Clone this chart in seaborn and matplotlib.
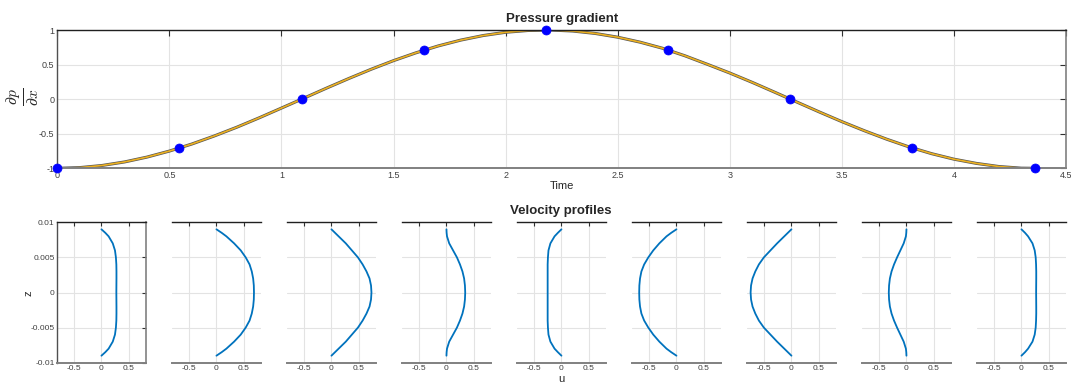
import numpy as np
import pandas as pd
import seaborn as sns
import matplotlib
matplotlib.use("Agg")
import matplotlib.pyplot as plt

# pressure gradient curve
time = [0, 0.1, 0.2, 0.3, 0.4, 0.5, 0.6, 0.7, 0.8, 0.9, 1.0, 1.1, 1.2, 1.3, 1.4,
        1.5, 1.6, 1.7, 1.8, 1.9, 2.0, 2.1, 2.2, 2.3, 2.4, 2.5, 2.6, 2.7, 2.8, 2.9,
        3.0, 3.1, 3.2, 3.3, 3.4, 3.5, 3.6, 3.7, 3.8, 3.9, 4.0, 4.1, 4.2, 4.3, 4.36]
dpdx = [-1.0, -0.990, -0.959, -0.908, -0.838, -0.751, -0.649, -0.533, -0.407,
        -0.271, -0.129, 0.014, 0.158, 0.298, 0.432, 0.557, 0.670, 0.770, 0.854,
        0.920, 0.967, 0.993, 1.0, 0.985, 0.950, 0.896, 0.824, 0.736, 0.627,
        0.504, 0.378, 0.243, 0.101, -0.043, -0.186, -0.325, -0.456, -0.579,
        -0.691, -0.788, -0.868, -0.929, -0.974, -0.998, -1.0]

# sample instants (blue dots)
t_samples = [0, 0.545, 1.09, 1.635, 2.18, 2.725, 3.27, 3.815, 4.36]
p_samples = [-1.0, -0.707, 0.0, 0.707, 1.0, 0.707, 0.0, -0.707, -1.0]

# velocity profiles u(z) at those instants
z = [-0.009, -0.0085, -0.008, -0.007, -0.006, -0.005, -0.004, -0.003, -0.002, -0.001,
     0.0, 0.001, 0.002, 0.003, 0.004, 0.005, 0.006, 0.007, 0.008, 0.0085, 0.009]
u1 = [0, 0.07, 0.13, 0.205, 0.245, 0.262, 0.27, 0.272, 0.272, 0.271, 0.27,
      0.271, 0.272, 0.272, 0.27, 0.262, 0.245, 0.205, 0.13, 0.07, 0]
u2 = [0, 0.095, 0.18, 0.32, 0.44, 0.53, 0.60, 0.64, 0.665, 0.677, 0.68,
      0.677, 0.665, 0.64, 0.60, 0.53, 0.44, 0.32, 0.18, 0.095, 0]
u3 = [0, 0.065, 0.13, 0.26, 0.37, 0.48, 0.565, 0.635, 0.69, 0.717, 0.725,
      0.717, 0.69, 0.635, 0.565, 0.48, 0.37, 0.26, 0.13, 0.065, 0]
u4 = [0, 0.003, 0.01, 0.05, 0.12, 0.19, 0.245, 0.29, 0.32, 0.335, 0.34,
      0.335, 0.32, 0.29, 0.245, 0.19, 0.12, 0.05, 0.01, 0.003, 0]
u5 = [0, -0.065, -0.125, -0.2, -0.235, -0.245, -0.25, -0.25, -0.25, -0.25, -0.25,
      -0.25, -0.25, -0.25, -0.25, -0.245, -0.235, -0.2, -0.125, -0.065, 0]
u6 = [0, -0.095, -0.18, -0.31, -0.42, -0.51, -0.585, -0.635, -0.66, -0.672, -0.675,
      -0.672, -0.66, -0.635, -0.585, -0.51, -0.42, -0.31, -0.18, -0.095, 0]
u7 = [0, -0.065, -0.13, -0.26, -0.38, -0.50, -0.59, -0.655, -0.705, -0.732, -0.74,
      -0.732, -0.705, -0.655, -0.59, -0.50, -0.38, -0.26, -0.13, -0.065, 0]
u8 = [0, -0.003, -0.01, -0.05, -0.11, -0.17, -0.225, -0.27, -0.30, -0.315, -0.32,
      -0.315, -0.30, -0.27, -0.225, -0.17, -0.11, -0.05, -0.01, -0.003, 0]
u9 = [0, 0.065, 0.12, 0.20, 0.24, 0.258, 0.265, 0.268, 0.268, 0.267, 0.266,
      0.267, 0.268, 0.268, 0.265, 0.258, 0.24, 0.20, 0.12, 0.065, 0]
profiles = [u1, u2, u3, u4, u5, u6, u7, u8, u9]

sns.set_style("white")
plt.rcParams['font.family'] = ['Liberation Sans', 'DejaVu Sans']
plt.rcParams['mathtext.fontset'] = 'cm'

W, H = 1071, 385
fig = plt.figure(figsize=(W / 100, H / 100), dpi=100)

tick_col = '#404040'
grid_col = '#e3e3e3'


def style_spines(ax, sides=True):
    ax.spines['top'].set_color('#202020')
    ax.spines['top'].set_linewidth(1.0)
    ax.spines['bottom'].set_color('#808080')
    ax.spines['bottom'].set_linewidth(1.4)
    for s in ['left', 'right']:
        ax.spines[s].set_visible(sides)
    ax.spines['left'].set_color('#505050')
    ax.spines['right'].set_color('#808080')
    ax.spines['left'].set_linewidth(1.0)
    ax.spines['right'].set_linewidth(1.2)


# top panel
ax = fig.add_axes([57.3 / W, 1 - 168.3 / H, (1066 - 57.3) / W, (168.3 - 30) / H])
sns.lineplot(x=time, y=dpdx, ax=ax, color='#555555', lw=2.2, estimator=None, sort=False)
sns.lineplot(x=time, y=dpdx, ax=ax, color='#EDB120', lw=1.2, estimator=None, sort=False)
sns.scatterplot(x=t_samples, y=p_samples, ax=ax, color='#0000ff', s=42,
                edgecolor='#0000ff', zorder=5, clip_on=False)
ax.set_xlim(0, 4.5)
ax.set_ylim(-1, 1)
ax.set_xticks(np.arange(0, 4.51, 0.5))
ax.set_xticklabels(['0', '0.5', '1', '1.5', '2', '2.5', '3', '3.5', '4', '4.5'])
ax.set_yticks([-1, -0.5, 0, 0.5, 1])
ax.set_yticklabels(['-1', '-0.5', '0', '0.5', '1'])
ax.grid(True, color=grid_col, lw=0.8)
ax.tick_params(direction='in', top=True, right=True, length=4, width=0.8,
               labelsize=6.5, labelcolor=tick_col, color='#303030', pad=2)
style_spines(ax, True)
ax.set_title('Pressure gradient', fontsize=9.5, fontweight='bold', pad=6)
ax.set_xlabel('Time', fontsize=8, color='#262626', labelpad=1)
ax.set_ylabel('')
fig.text(23 / W, 1 - 97 / H, r'$\frac{\partial p}{\partial x}$', rotation=90,
         ha='center', va='center', fontsize=16)

# velocity profiles
for i, u in enumerate(profiles):
    left = (57.3 + 115 * i) / W
    a = fig.add_axes([left, 1 - 362.7 / H, 88.3 / W, (362.7 - 222.3) / H])
    df = pd.DataFrame({'u': u, 'z': z})
    sns.lineplot(data=df, x='u', y='z', ax=a, color='#0072BD', lw=1.3,
                 estimator=None, sort=False)
    a.set_xlim(-0.8, 0.8)
    a.set_ylim(-0.01, 0.01)
    a.set_xticks([-0.5, 0, 0.5])
    a.set_xticklabels(['-0.5', '0', '0.5'])
    a.set_yticks([-0.01, -0.005, 0, 0.005, 0.01])
    a.grid(True, color=grid_col, lw=0.8)
    a.set_xlabel('')
    a.set_ylabel('')
    a.tick_params(direction='in', top=True, right=True, length=3, width=0.8,
                  labelsize=6, labelcolor=tick_col, color='#303030', pad=2)
    if i == 0:
        a.set_yticklabels(['-0.01', '-0.005', '0', '0.005', '0.01'])
        style_spines(a, True)
    else:
        a.set_yticklabels([])
        a.tick_params(axis='y', length=0)
        style_spines(a, False)

fig.text(561 / W, 1 - 211 / H, 'Velocity profiles', ha='center', va='center',
         fontsize=9.5, fontweight='bold')
fig.text(28 / W, 1 - 293 / H, 'z', rotation=90, ha='center', va='center',
         fontsize=8, color='#262626')
fig.text(561.5 / W, 1.5 / H, 'u', ha='center', va='bottom',
         fontsize=8, color='#262626')

fig.savefig('out.png', dpi=100)
